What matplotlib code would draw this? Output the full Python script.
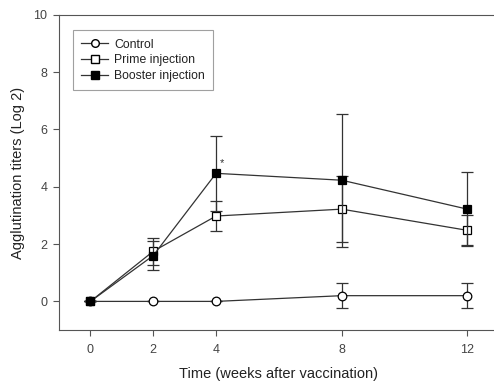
"""Agglutination titers after vaccination."""
import matplotlib
matplotlib.use("Agg")
from matplotlib import pyplot as plt
from matplotlib.lines import Line2D

plt.rcParams['font.family'] = ['Liberation Sans', 'DejaVu Sans']

weeks = [0, 2, 4, 8, 12]

control = [0, 0, 0, 0.2, 0.2]
control_err = [0, 0, 0, 0.43, 0.43]

prime = [0, 1.75, 2.98, 3.22, 2.48]
prime_err = [0, 0.48, 0.54, 1.15, 0.52]

booster = [0, 1.6, 4.47, 4.23, 3.22]
booster_err = [0, 0.5, 1.31, 2.32, 1.28]

labels = ['Control', 'Prime injection', 'Booster injection']
x_ticks = [0, 2, 4, 8, 12]
y_ticks = [0, 2, 4, 6, 8, 10]

fig = plt.figure(figsize=(4.94, 3.82), dpi=100)
ax = fig.add_axes([0.1195, 0.136, 0.887, 0.825])

line_color = '#333333'
common = dict(color=line_color, lw=0.9, elinewidth=0.9, capsize=4, capthick=0.9,
              markersize=6.2, markeredgecolor='black', markeredgewidth=0.9)

ax.errorbar(weeks, control, yerr=control_err, marker='o', markerfacecolor='white',
            zorder=3, **common)
ax.errorbar(weeks, prime, yerr=prime_err, marker='s', markerfacecolor='white',
            zorder=4, **common)
ax.errorbar(weeks, booster, yerr=booster_err, marker='s', markerfacecolor='black',
            zorder=5, **common)

# significance mark
ax.text(4.12, 4.72, '*', fontsize=8, color='#333333')

ax.set_xlim(-1, 12.95)
ax.set_ylim(-1, 10)
ax.set_xticks(x_ticks)
ax.set_yticks(y_ticks)
ax.tick_params(direction='out', length=4, width=0.8, colors='#555555',
               labelsize=9, labelcolor='#444444', pad=4.5)
ax.tick_params(axis='x', pad=6)
for side in ['left', 'bottom', 'top', 'right']:
    ax.spines[side].set_color('#555555')
    ax.spines[side].set_linewidth(0.8)

ax.set_xlabel('Time (weeks after vaccination)', fontsize=10.5, color='#222222')
ax.set_ylabel('Agglutination titers (Log 2)', fontsize=10.5, color='#222222')
ax.xaxis.set_label_coords(0.5, -0.117)
ax.yaxis.set_label_coords(-0.077, 0.5)

handles = [
    Line2D([], [], color=line_color, lw=0.9, marker='o', markersize=5.5,
           markerfacecolor='white', markeredgecolor='black'),
    Line2D([], [], color=line_color, lw=0.9, marker='s', markersize=5.5,
           markerfacecolor='white', markeredgecolor='black'),
    Line2D([], [], color=line_color, lw=0.9, marker='s', markersize=5.5,
           markerfacecolor='black', markeredgecolor='black'),
]
leg = ax.legend(handles, labels, loc='upper left', bbox_to_anchor=(0.031, 0.952),
                fontsize=8.8, frameon=True, fancybox=False, edgecolor='#888888',
                handlelength=2.2, handletextpad=0.5, borderpad=0.7,
                labelspacing=0.3, borderaxespad=0.0)
leg.get_frame().set_linewidth(0.8)
for t in leg.get_texts():
    t.set_color('#222222')

fig.savefig('out.png', dpi=100)
